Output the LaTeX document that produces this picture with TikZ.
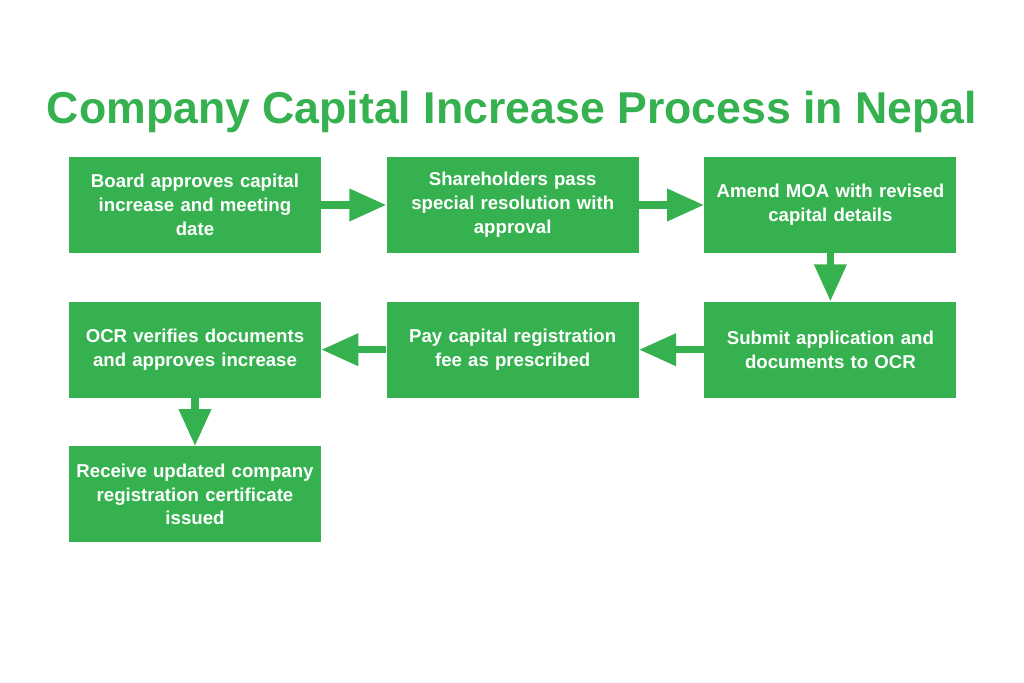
\documentclass[tikz,border=0pt]{standalone}
\usepackage{fontspec}
\setmainfont{Liberation Sans}
\usetikzlibrary{arrows.meta,positioning}
\definecolor{stepgreen}{HTML}{35B24F}

\begin{document}
\begin{tikzpicture}[
  node distance=9.6mm and 13mm,
  box/.style={fill=stepgreen, text=white, minimum width=50.4mm, minimum height=19.2mm,
              text width=49mm, align=center, inner sep=1pt,
              font=\fontsize{10.6}{13.6}\selectfont\bfseries},
  arr/.style={-{Triangle[length=7.4mm,width=6.2mm]}, line width=4pt, draw=stepgreen},
  heading/.style={text=stepgreen, font=\fontsize{25.4}{30}\selectfont\bfseries},
]
  \useasboundingbox (0,0) rectangle (20.48,-13.66);
  \node[heading] (title) at (10.24,-2.24) {Company Capital Increase Process in Nepal};
  % first row, left to right
  \node[box] (board) at (3.9,-4.1) {Board approves capital\\increase and meeting\\date};
  \node[box, right=of board] (share) {Shareholders pass\\special resolution with\\approval};
  \node[box, right=of share] (moa) {Amend MOA with revised\\capital details};
  % second row, right to left
  \node[box, below=of moa] (submit) {Submit application and\\documents to OCR};
  \node[box, below=of share] (fee) {Pay capital registration\\fee as prescribed};
  \node[box, below=of board] (ocr) {OCR verifies documents\\and approves increase};
  \node[box, below=of ocr] (cert) {Receive updated company\\registration certificate\\issued};
  \draw[arr] (board) -- (share);
  \draw[arr] (share) -- (moa);
  \draw[arr] (moa) -- (submit);
  \draw[arr] (submit) -- (fee);
  \draw[arr] (fee) -- (ocr);
  \draw[arr] (ocr) -- (cert);
\end{tikzpicture}
\end{document}
